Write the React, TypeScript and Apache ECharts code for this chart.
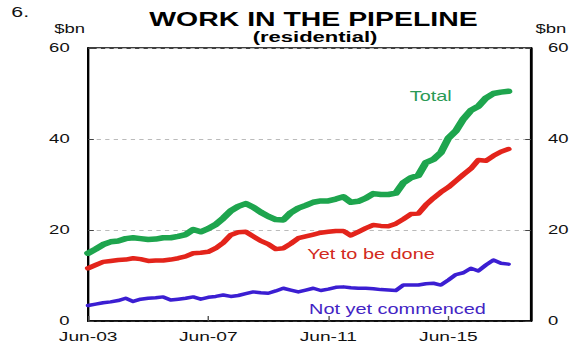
import React, { useEffect, useRef } from "react";
import * as echarts from "echarts";

// Quarterly categories, Jun-03 .. Mar-18
const months = ["Jun", "Sep", "Dec", "Mar"];
const categories: string[] = [];
for (let i = 0; i < 60; i++) {
  const m = months[i % 4];
  const yr = 2003 + Math.floor((i + 1) / 4) + (i % 4 === 3 ? 0 : 0);
  const y = m === "Mar" ? 2003 + Math.floor(i / 4) + 1 : 2003 + Math.floor(i / 4);
  categories.push(`${m}-${String(y % 100).padStart(2, "0")}`);
}

const total = [
  14.9, 15.8, 16.8, 17.4, 17.6, 18.1, 18.3, 18.1, 17.9, 18.0,
  18.3, 18.3, 18.6, 19.0, 20.1, 19.6, 20.3, 21.2, 22.6, 24.2,
  25.2, 25.8, 25.0, 23.9, 23.0, 22.3, 22.2, 23.8, 24.8, 25.4,
  26.1, 26.4, 26.4, 26.8, 27.3, 26.1, 26.3, 27.0, 28.0, 27.8,
  27.8, 28.1, 30.4, 31.5, 32.0, 34.8, 35.5, 37.0, 40.2, 41.8,
  44.4, 46.3, 47.2, 49.0, 50.0, 50.3, 50.5,
];

const yetToBeDone = [
  11.6, 12.3, 13.0, 13.2, 13.4, 13.5, 13.8, 13.6, 13.2, 13.3,
  13.3, 13.5, 13.8, 14.2, 14.9, 15.0, 15.2, 16.0, 17.2, 18.9,
  19.5, 19.6, 18.6, 17.6, 16.9, 15.8, 16.0, 17.0, 18.2, 18.6,
  19.0, 19.4, 19.6, 19.8, 19.8, 18.8, 19.6, 20.4, 21.1, 20.9,
  20.8, 21.4, 22.4, 23.5, 23.6, 25.5, 27.0, 28.3, 29.4, 30.8,
  32.2, 33.5, 35.4, 35.2, 36.3, 37.2, 37.8,
];

const notYetCommenced = [
  3.4, 3.7, 4.0, 4.2, 4.5, 5.0, 4.3, 4.8, 5.0, 5.1,
  5.3, 4.6, 4.8, 5.0, 5.3, 4.8, 5.2, 5.4, 5.7, 5.4,
  5.6, 6.0, 6.4, 6.2, 6.1, 6.6, 7.2, 6.8, 6.4, 6.8,
  7.2, 6.7, 7.0, 7.4, 7.5, 7.3, 7.2, 7.2, 7.1, 6.9,
  6.8, 6.7, 7.9, 7.9, 7.9, 8.2, 8.3, 7.9, 9.0, 10.2,
  10.6, 11.6, 11.0, 12.3, 13.4, 12.7, 12.5,
];

const yMin = 0;
const yMax = 60;
const yStep = 20;

const INNER_W = 408;
const STRETCH = 580 / INNER_W;
const FONT = "'Liberation Sans', Arial, sans-serif";

const GREEN = "#1ea54e";
const RED = "#e3241b";
const BLUE = "#3b1ed2";

export default function App() {
  const ref = useRef<HTMLDivElement>(null);

  useEffect(() => {
    if (!ref.current) return;
    const chart = echarts.init(ref.current, undefined, { renderer: "svg" });

    const yAxisCommon = {
      type: "value" as const,
      min: yMin,
      max: yMax,
      interval: yStep,
      axisLine: { show: true, lineStyle: { color: "#000", width: 1.5 } },
      axisTick: { show: true, inside: true, length: 4, lineStyle: { color: "#444" } },
      axisLabel: { fontSize: 13, color: "#111", fontFamily: FONT },
    };

    chart.setOption({
      animation: false,
      grid: {
        left: 62,
        right: 34.5,
        top: 48,
        bottom: 31,
        show: true,
        borderColor: "#000",
        borderWidth: 1.5,
      },
      xAxis: {
        type: "category",
        data: categories,
        boundaryGap: false,
        axisLine: { show: true, lineStyle: { color: "#000", width: 1.5 } },
        axisTick: { show: true, inside: true, interval: 15, length: 5, lineStyle: { color: "#555" } },
        axisLabel: { interval: 15, margin: 9, fontSize: 13.5, color: "#111", fontFamily: FONT },
        splitLine: { show: false },
      },
      yAxis: [
        {
          ...yAxisCommon,
          position: "left",
          axisLabel: { ...yAxisCommon.axisLabel, margin: 13 },
          splitLine: { show: true, lineStyle: { color: "#bbb", type: [3, 3], width: 1 } },
        },
        {
          ...yAxisCommon,
          position: "right",
          axisLabel: { ...yAxisCommon.axisLabel, margin: 12 },
          splitLine: { show: false },
        },
      ],
      series: [
        {
          name: "Not yet commenced",
          type: "line",
          data: notYetCommenced,
          symbol: "none",
          lineStyle: { color: BLUE, width: 3.5, join: "round", cap: "round" },
          z: 3,
        },
        {
          name: "Yet to be done",
          type: "line",
          data: yetToBeDone,
          symbol: "none",
          lineStyle: { color: RED, width: 4.5, join: "round", cap: "round" },
          z: 4,
        },
        {
          name: "Total",
          type: "line",
          data: total,
          symbol: "none",
          lineStyle: { color: GREEN, width: 5.5, join: "round", cap: "round" },
          z: 5,
        },
      ],
      graphic: [
        {
          type: "text",
          x: 8,
          y: 12,
          style: { text: "6.", fontSize: 15, fill: "#111", fontFamily: FONT, verticalAlign: "middle" },
        },
        {
          type: "text",
          x: 220.5,
          y: 19,
          style: {
            text: "WORK IN THE PIPELINE",
            fontSize: 20,
            fontWeight: "bold",
            fill: "#000",
            fontFamily: FONT,
            align: "center",
            verticalAlign: "middle",
          },
        },
        {
          type: "text",
          x: 221.6,
          y: 37,
          style: {
            text: "(residential)",
            fontSize: 15.5,
            fontWeight: "bold",
            fill: "#000",
            fontFamily: FONT,
            align: "center",
            verticalAlign: "middle",
          },
        },
        {
          type: "text",
          x: 49,
          y: 29,
          style: { text: "$bn", fontSize: 13, fill: "#111", fontFamily: FONT, align: "center", verticalAlign: "middle" },
        },
        {
          type: "text",
          x: 387.5,
          y: 29,
          style: { text: "$bn", fontSize: 13, fill: "#111", fontFamily: FONT, align: "center", verticalAlign: "middle" },
        },
        {
          type: "text",
          x: 303,
          y: 96.5,
          style: { text: "Total", fontSize: 14, fill: "#2a9a55", fontFamily: FONT, align: "center", verticalAlign: "middle" },
        },
        {
          type: "text",
          x: 261,
          y: 254,
          style: { text: "Yet to be done", fontSize: 14, fill: "#d22a20", fontFamily: FONT, align: "center", verticalAlign: "middle" },
        },
        {
          type: "text",
          x: 279.6,
          y: 309,
          style: { text: "Not yet commenced", fontSize: 14, fill: "#4324c4", fontFamily: FONT, align: "center", verticalAlign: "middle" },
        },
      ],
    });

    return () => chart.dispose();
  }, []);

  return (
    <div
      style={{
        position: "absolute",
        left: 0,
        top: 0,
        width: 580,
        height: 352,
        overflow: "hidden",
        background: "#fff",
      }}
    >
      <div
        ref={ref}
        style={{
          width: INNER_W,
          height: 352,
          transform: `scaleX(${STRETCH})`,
          transformOrigin: "0 0",
        }}
      />
    </div>
  );
}
